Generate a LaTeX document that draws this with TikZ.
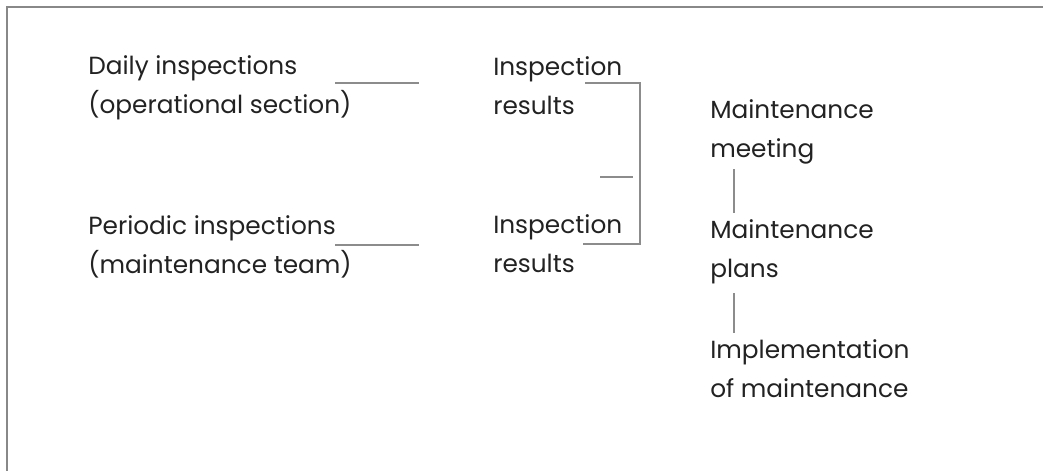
\documentclass[tikz,border=0pt]{standalone}
\usepackage{fontspec}
\setmainfont{Poppins}
\definecolor{linegray}{HTML}{8C8C8C}
\definecolor{framegray}{HTML}{888888}
\definecolor{txt}{HTML}{222222}
\tikzset{
  lbl/.style={anchor=base west, inner sep=0pt, align=left, text=txt,
    font=\fontsize{18.6pt}{29.25pt}\selectfont},
  conn/.style={draw=linegray, line width=1.5pt},
  frame/.style={draw=framegray, line width=2pt}
}
\begin{document}
\begin{tikzpicture}[x=0.75pt,y=-0.75pt]
\useasboundingbox (0,0) rectangle (1043,471);
\draw[frame] (7,471) -- (7,7) -- (1043,7);
\node[lbl] (daily) at (88,113) {Daily inspections\\(operational section)};
\node[lbl] (periodic) at (88,273) {Periodic inspections\\(maintenance team)};
\node[lbl] (res1) at (493,114) {Inspection\\results};
\node[lbl] (res2) at (493,272) {Inspection\\results};
\node[lbl] (meet) at (710,157) {Maintenance\\meeting};
\node[lbl] (plans) at (710,277) {Maintenance\\plans};
\node[lbl] (impl) at (710,397) {Implementation\\of maintenance};
\coordinate (a1) at (335,83); \coordinate (a2) at (419,83);
\coordinate (b1) at (335,245); \coordinate (b2) at (419,245);
\draw[conn] (a1) -- (a2);
\draw[conn] (b1) -- (b2);
\coordinate (k1) at (585,83); \coordinate (k2) at (640,83);
\coordinate (k3) at (640,244); \coordinate (k4) at (583,244);
\draw[conn] (k1) -- (k2) -- (k3) -- (k4);
\coordinate (s1) at (600,177); \coordinate (s2) at (633,177);
\draw[conn] (s1) -- (s2);
\coordinate (v1) at (734,169); \coordinate (v2) at (734,213);
\coordinate (w1) at (734,293); \coordinate (w2) at (734,333);
\draw[conn] (v1) -- (v2);
\draw[conn] (w1) -- (w2);
\end{tikzpicture}
\end{document}
